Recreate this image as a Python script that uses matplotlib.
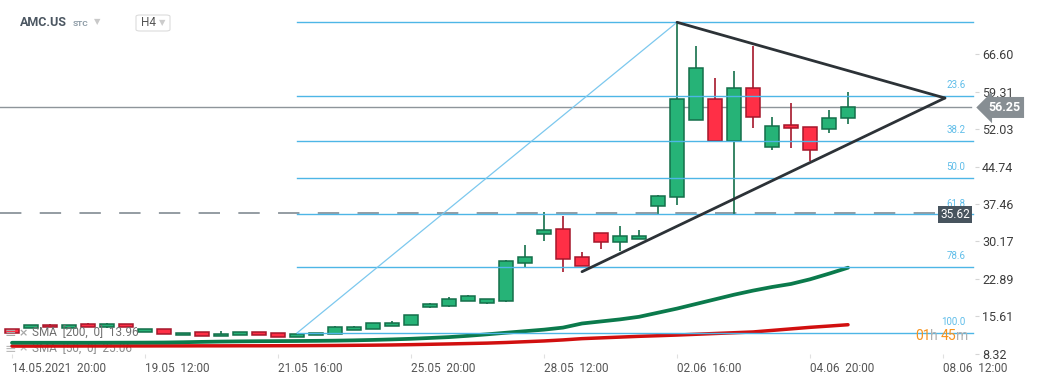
import matplotlib
matplotlib.use("Agg")
import matplotlib.pyplot as plt
from matplotlib.patches import Rectangle, FancyBboxPatch
from matplotlib import transforms

plt.rcParams['font.family'] = ['Roboto', 'DejaVu Sans']

# ---------------- data ----------------
symbol = "AMC.US"
symbol_kind = "STC"
interval = "H4"

opens  = [13.07, 13.32, 13.90, 13.38, 14.04, 13.51, 14.04, 12.54, 13.12, 11.90,
          12.48, 11.70, 11.90, 12.48, 12.40, 11.62, 11.90, 12.21, 12.99, 13.18,
          13.77, 13.96, 17.47, 17.66, 18.63, 18.24, 18.63, 26.03, 31.56, 32.53,
          27.08, 31.75, 30.00, 30.70, 37.01, 38.76, 53.75, 57.84, 49.72, 59.98,
          48.50, 52.78, 52.39, 52.00, 54.14]
highs  = [13.07, 13.84, 14.10, 13.84, 14.23, 14.29, 14.04, 13.12, 13.12, 12.29,
          12.48, 12.67, 12.48, 12.48, 12.40, 12.35, 12.44, 13.70, 13.77, 14.23,
          14.68, 15.85, 18.18, 19.35, 19.74, 18.96, 26.56, 29.48, 35.84, 35.12,
          28.11, 31.75, 33.17, 32.40, 39.21, 72.83, 68.22, 61.99, 63.35, 68.27,
          54.39, 57.12, 52.39, 55.81, 59.26]
lows   = [12.40, 13.32, 13.45, 13.38, 13.57, 13.32, 13.57, 12.54, 12.09, 11.90,
          11.70, 11.70, 11.90, 12.01, 11.62, 11.62, 11.90, 12.21, 12.99, 13.18,
          13.77, 13.96, 17.27, 17.47, 18.63, 18.05, 18.44, 25.06, 30.31, 24.28,
          25.39, 28.70, 28.31, 30.70, 35.51, 37.32, 53.75, 49.72, 35.51, 52.31,
          48.03, 48.42, 45.89, 51.34, 53.09]
closes = [12.40, 13.84, 13.45, 13.84, 13.57, 14.04, 13.57, 13.12, 12.09, 12.29,
          11.70, 12.15, 12.48, 12.01, 11.62, 12.15, 12.44, 13.51, 13.51, 14.23,
          14.23, 15.85, 17.93, 18.96, 19.55, 18.96, 26.36, 27.08, 32.40, 26.81,
          25.39, 30.00, 31.17, 31.17, 38.96, 57.84, 63.87, 49.72, 59.98, 54.45,
          52.58, 52.19, 47.91, 54.14, 56.25]

sma50  = [10.45, 10.45, 10.45, 10.45, 10.45, 10.46, 10.47, 10.48, 10.50, 10.55,
          10.62, 10.68, 10.72, 10.75, 10.77, 10.79, 10.82, 10.86, 10.92, 11.00,
          11.10, 11.22, 11.38, 11.55, 11.80, 12.09, 12.40, 12.70, 13.00, 13.40,
          14.20, 14.60, 15.00, 15.50, 16.30, 17.10, 18.00, 18.90, 19.80, 20.60,
          21.30, 21.90, 22.80, 23.90, 25.06]
sma200 = [9.80, 9.80, 9.81, 9.81, 9.82, 9.82, 9.83, 9.83, 9.84, 9.84,
          9.85, 9.85, 9.86, 9.86, 9.87, 9.88, 9.90, 9.92, 9.95, 9.98,
          10.02, 10.08, 10.15, 10.22, 10.30, 10.38, 10.50, 10.65, 10.80, 11.00,
          11.25, 11.40, 11.55, 11.70, 11.82, 11.95, 12.10, 12.25, 12.40, 12.55,
          12.85, 13.15, 13.45, 13.70, 13.96]

x_tick_index = [0, 7, 14, 21, 28, 35, 42, 49]
x_tick_labels = ["14.05.2021  20:00", "19.05  12:00", "21.05  16:00", "25.05  20:00",
                 "28.05  12:00", "02.06  16:00", "04.06  20:00", "08.06  12:00"]
y_ticks = [66.60, 59.31, 52.03, 44.74, 37.46, 30.17, 22.89, 15.61, 8.32]

fib_start = (15, 12.35)     # (candle index, price) swing low
fib_end = (35, 72.83)       # swing high
fib_levels = [0.0, 23.6, 38.2, 50.0, 61.8, 78.6, 100.0]

tri_upper = [(35, 72.83), (49.1, 58.09)]
tri_lower = [(30.0, 24.28), (49.1, 58.09)]

last_price = 56.25
marked_level = 35.62
sma200_label = "SMA  [200,  0]  13.96"
sma50_label = "SMA  [50,  0]  25.06"
countdown = ["01", "h ", "45", "m"]

# ---------------- figure ----------------
W, H = 1041, 380
fig = plt.figure(figsize=(W / 100, H / 100), dpi=100)
fig.patch.set_facecolor("white")
ax = fig.add_axes([0, 26 / H, 975 / W, 354 / H])
ax.set_xlim(-0.632, 50.684)
ax.set_ylim(8.26, 77.17)
for s in ax.spines.values():
    s.set_visible(False)
ax.set_facecolor("white")

GREEN_F, GREEN_E = "#26b377", "#146f4a"
RED_F, RED_E = "#ff2f46", "#a6172b"
BLUE = "#4db6e6"

# candles
bw = 14 / 19
for i, (o, h, l, c) in enumerate(zip(opens, highs, lows, closes)):
    up = c >= o
    fc, ec = (GREEN_F, GREEN_E) if up else (RED_F, RED_E)
    ax.vlines(i, l, h, color=ec, lw=1.2, zorder=3)
    lo, hi = min(o, c), max(o, c)
    ax.add_patch(Rectangle((i - bw / 2, lo), bw, max(hi - lo, 0.12),
                           facecolor=fc, edgecolor=ec, lw=1.1, zorder=4))

# SMA lines
idx = list(range(len(sma50)))
ax.plot(idx, sma200, color="#d10f0f", lw=2.5, zorder=5, solid_capstyle="round")
ax.plot(idx, sma50, color="#0b7a4c", lw=2.7, zorder=5, solid_capstyle="round")

# dashed marked level
ax.plot([-0.632, 48.6], [marked_level, marked_level], color="#5f6b74",
        lw=1.1, dashes=(14, 12), zorder=2, alpha=0.85)

# fib retracement
rng = fib_end[1] - fib_start[1]
fib_right = 50.58
for lv in fib_levels:
    p = fib_end[1] - rng * lv / 100
    ax.plot([fib_start[0], fib_right], [p, p], color=BLUE, lw=1.0, zorder=6)
    if lv > 0:
        ax.text(fib_right - 0.4, p + 1.1, f"{lv:.1f}", color="#5fbde9",
                fontsize=7, ha="right", va="bottom", zorder=7)
ax.plot([fib_start[0], fib_end[0]], [fib_start[1], fib_end[1]],
        color="#7cc8ee", lw=0.9, zorder=6)

# triangle
ax.plot(*zip(*tri_upper), color="#2c3237", lw=2.0, zorder=8, solid_capstyle="round")
ax.plot(*zip(*tri_lower), color="#2c3237", lw=2.0, zorder=8, solid_capstyle="round")

# last price line
ax.plot([-0.632, 50.45], [last_price, last_price], color="#8e959a", lw=1.0, zorder=2)

# axes ticks
ax.yaxis.tick_right()
ax.set_yticks(y_ticks)
ax.set_yticklabels([f"{v:.2f}" for v in y_ticks])
ax.tick_params(axis="y", length=3, width=0.8, color="#d5d5d5", pad=2,
               labelsize=9, labelcolor="#3d3d3d")
ax.set_xticks(x_tick_index)
ax.set_xticklabels(x_tick_labels)
ax.tick_params(axis="x", length=3, width=0.8, color="#e0e0e0", pad=3,
               labelsize=8.5, labelcolor="#555555")
for lbl in ax.get_xticklabels():
    lbl.set_ha("left")

# price labels on right
bt = transforms.blended_transform_factory(fig.transFigure, ax.transData)
ax.text(1004 / W, last_price, f"{last_price:.2f}", transform=bt, ha="center",
        va="center", color="white", fontsize=9, fontweight="bold", zorder=10,
        clip_on=False,
        bbox=dict(boxstyle="larrow,pad=0.32", fc="#878e93", ec="none"))
ax.text(955 / W, marked_level - 0.25, f"{marked_level:.2f}", transform=bt, ha="center",
        va="center", color="white", fontsize=8.5, zorder=10, clip_on=False,
        bbox=dict(boxstyle="square,pad=0.18", fc="#47545e", ec="none"))


def px(x, y):
    return x / W, 1 - y / H


# countdown
cx = 915
cols = ["#f7931e", "#b0b0b0", "#f7931e", "#b0b0b0"]
steps = [15, 11, 15, 12]
for part, col, st in zip(countdown, cols, steps):
    fig.text(*px(cx, 336), part, color=col, fontsize=10, ha="left", va="center")
    cx += st

# legend rows
fig.text(*px(5, 333), "≡", color="#a8a8a8", fontsize=10, ha="left", va="center",
         family="DejaVu Sans")
fig.text(*px(19, 333), "×", color="#a8a8a8", fontsize=8, ha="left", va="center",
         fontweight="bold", family="DejaVu Sans")
fig.text(*px(32, 333), sma200_label, color="#707070", fontsize=8.5, ha="left", va="center")
ax.text(-0.632 + 5 / 19, 9.3, "≡", color="#bbbbbb", fontsize=10, ha="left", va="center",
        family="DejaVu Sans", zorder=1)
ax.text(-0.632 + 19 / 19, 9.3, "×", color="#bbbbbb", fontsize=8, ha="left", va="center",
        fontweight="bold", family="DejaVu Sans", zorder=1)
ax.text(-0.632 + 32 / 19, 9.3, sma50_label, color="#8a8a8a", fontsize=8.5, ha="left",
        va="center", zorder=1)

# header
fig.text(*px(20, 23), symbol, color="#4b5661", fontsize=9, fontweight="bold",
         ha="left", va="center")
fig.text(*px(73, 24), symbol_kind, color="#8d9ba6", fontsize=6, fontweight="bold",
         ha="left", va="center")
fig.text(*px(94, 22), "▼", color="#c9c9c9", fontsize=6, ha="left", va="center",
         family="DejaVu Sans")
box = FancyBboxPatch((136 / W, 1 - 31 / H), 34 / W, 16 / H,
                     boxstyle="round,pad=0,rounding_size=0.004",
                     transform=fig.transFigure, fc="white", ec="#dcdcdc", lw=0.8)
fig.patches.append(box)
fig.text(*px(141, 23), interval, color="#555555", fontsize=8.5, ha="left", va="center")
fig.text(*px(159, 23), "▼", color="#cccccc", fontsize=6, ha="left", va="center",
         family="DejaVu Sans")

fig.savefig("out.png", dpi=100, facecolor="white")
